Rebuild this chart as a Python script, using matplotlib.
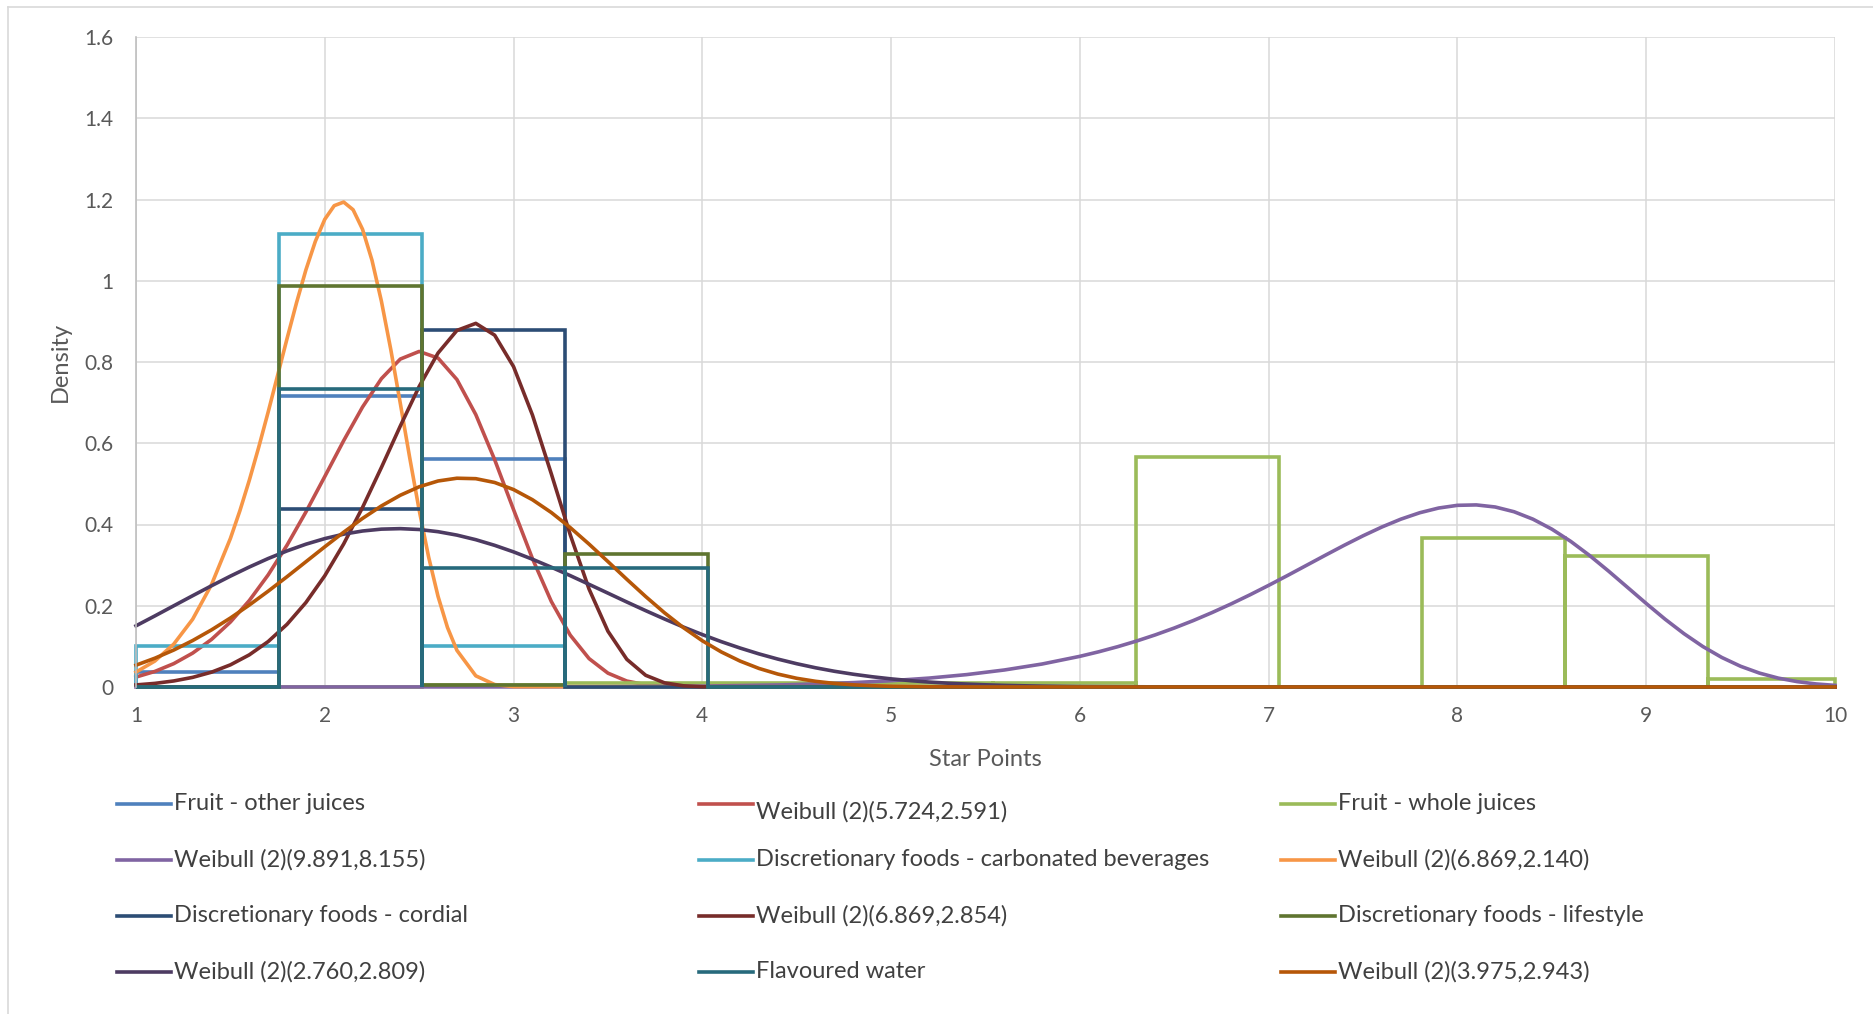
"""
Гистограммы оценок (Star Points) по категориям напитков и подогнанные Weibull-кривые.
"""

import matplotlib.pyplot as plt
from matplotlib.lines import Line2D

plt.rcParams['font.family'] = ['Lato', 'DejaVu Sans']

# Границы корзин гистограмм (общие для всех категорий)
BIN_EDGES = [1.0, 1.757, 2.514, 3.271, 4.028, 4.785, 5.542, 6.299,
             7.056, 7.813, 8.57, 9.327, 10.084]

# Плотности по корзинам
OTHER_JUICES = [0.037, 0.717, 0.562, 0, 0, 0, 0, 0, 0, 0, 0, 0]
WHOLE_JUICES = [0, 0, 0.006, 0.010, 0.010, 0.010, 0.010, 0.565, 0, 0.366, 0.322, 0.020]
CARBONATED = [0.100, 1.115, 0.100, 0, 0, 0, 0, 0, 0, 0, 0, 0]
CORDIAL = [0, 0.437, 0.878, 0, 0, 0, 0, 0, 0, 0, 0, 0]
LIFESTYLE = [0, 0.988, 0.005, 0.327, 0, 0, 0, 0, 0, 0, 0, 0]
FLAVOURED = [0, 0.733, 0.292, 0.292, 0, 0, 0, 0, 0, 0, 0, 0]

# Weibull-кривые, точки
X_W5724 = [1.0, 1.1, 1.2, 1.3, 1.4, 1.5, 1.6, 1.7, 1.8, 1.9, 2.0, 2.1, 2.2, 2.3, 2.4, 2.5,
           2.6, 2.7, 2.8, 2.9, 3.0, 3.1, 3.2, 3.3, 3.4, 3.5, 3.6, 3.7, 3.8, 3.9, 4.0, 10.0]
Y_W5724 = [0.0245, 0.0383, 0.0575, 0.0834, 0.1171, 0.1599, 0.2127, 0.2759, 0.3491, 0.4308,
           0.5181, 0.6063, 0.6892, 0.7590, 0.8072, 0.8260, 0.8097, 0.7568, 0.6705, 0.5594,
           0.4366, 0.3161, 0.2105, 0.1278, 0.0699, 0.0341, 0.0146, 0.0055, 0.0017, 0.0005,
           0.0001, 0.0]

X_W9891 = [1.0, 3.0, 3.5, 4.0, 4.4, 4.6, 4.8, 5.0, 5.2, 5.4, 5.6, 5.8, 6.0,
           6.1, 6.2, 6.3, 6.4, 6.5, 6.6, 6.7, 6.8, 6.9, 7.0, 7.1, 7.2, 7.3, 7.4, 7.5,
           7.6, 7.7, 7.8, 7.9, 8.0, 8.1, 8.2, 8.3, 8.4, 8.5, 8.6, 8.7, 8.8, 8.9, 9.0,
           9.1, 9.2, 9.3, 9.4, 9.5, 9.6, 9.7, 9.8, 9.9, 10.0]
Y_W9891 = [0.0, 0.0002, 0.0007, 0.0022, 0.0050, 0.0074, 0.0108, 0.0155, 0.0219, 0.0305,
           0.0419, 0.0566, 0.0755,
           0.0867, 0.0992, 0.1131, 0.1284, 0.1452, 0.1634, 0.1832, 0.2043, 0.2267, 0.2502,
           0.2745, 0.2994, 0.3243, 0.3488, 0.3722, 0.3939, 0.4131, 0.4289, 0.4405, 0.4472,
           0.4482, 0.4431, 0.4314, 0.4131, 0.3886, 0.3585, 0.3237, 0.2855, 0.2456, 0.2056,
           0.1669, 0.1313, 0.0996, 0.0728, 0.0510, 0.0342, 0.0218, 0.0132, 0.0075, 0.0040]

X_W6869A = [1.0, 1.1, 1.2, 1.3, 1.4, 1.5, 1.55, 1.6, 1.65, 1.7, 1.75, 1.8, 1.85, 1.9, 1.95,
            2.0, 2.05, 2.1, 2.15, 2.2, 2.25, 2.3, 2.35, 2.4, 2.45, 2.5, 2.55, 2.6, 2.65,
            2.7, 2.8, 2.9, 3.0, 10.0]
Y_W6869A = [0.0367, 0.0639, 0.1056, 0.1667, 0.2520, 0.3656, 0.4334, 0.5085, 0.5901, 0.6767,
            0.7667, 0.8574, 0.9453, 1.0267, 1.0969, 1.1512, 1.1848, 1.1937, 1.1748, 1.1267,
            1.0506, 0.9496, 0.8298, 0.6984, 0.5642, 0.4355, 0.3202, 0.2230, 0.1465, 0.0902,
            0.0275, 0.0060, 0.0009, 0.0]

X_W6869B = [1.0, 1.1, 1.2, 1.3, 1.4, 1.5, 1.6, 1.7, 1.8, 1.9, 2.0, 2.1, 2.2, 2.3, 2.4, 2.5,
            2.6, 2.7, 2.8, 2.9, 3.0, 3.1, 3.2, 3.3, 3.4, 3.5, 3.6, 3.7, 3.8, 3.9, 4.0, 10.0]
Y_W6869B = [0.0051, 0.0089, 0.0149, 0.0237, 0.0365, 0.0545, 0.0791, 0.1118, 0.1543, 0.2079,
            0.2738, 0.3521, 0.4420, 0.5404, 0.6423, 0.7397, 0.8221, 0.8777, 0.8951, 0.8660,
            0.7885, 0.6696, 0.5248, 0.3751, 0.2410, 0.1373, 0.0681, 0.0288, 0.0102, 0.0029,
            0.0007, 0.0]

X_W2760 = [1.0, 1.1, 1.2, 1.3, 1.4, 1.5, 1.6, 1.7, 1.8, 1.9, 2.0, 2.1, 2.2, 2.3, 2.4, 2.5,
           2.6, 2.7, 2.8, 2.9, 3.0, 3.1, 3.2, 3.3, 3.4, 3.5, 3.6, 3.7, 3.8, 3.9, 4.0, 4.1,
           4.2, 4.3, 4.4, 4.5, 4.6, 4.7, 4.8, 4.9, 5.0, 5.1, 5.2, 5.3, 5.4, 5.5, 5.6, 5.7,
           5.8, 5.9, 6.0, 6.5, 7.0, 10.0]
Y_W2760 = [0.1506, 0.1750, 0.1999, 0.2247, 0.2492, 0.2729, 0.2953, 0.3162, 0.3350, 0.3515,
           0.3653, 0.3762, 0.3840, 0.3886, 0.3898, 0.3877, 0.3823, 0.3739, 0.3626, 0.3487,
           0.3326, 0.3145, 0.2949, 0.2742, 0.2527, 0.2310, 0.2092, 0.1879, 0.1673, 0.1475,
           0.1290, 0.1117, 0.0959, 0.0815, 0.0687, 0.0573, 0.0473, 0.0387, 0.0314, 0.0252,
           0.0200, 0.0157, 0.0122, 0.0094, 0.0072, 0.0054, 0.0040, 0.0030, 0.0022, 0.0016,
           0.0011, 0.0002, 0.0, 0.0]

X_W3975 = [1.0, 1.1, 1.2, 1.3, 1.4, 1.5, 1.6, 1.7, 1.8, 1.9, 2.0, 2.1, 2.2, 2.3, 2.4, 2.5,
           2.6, 2.7, 2.8, 2.9, 3.0, 3.1, 3.2, 3.3, 3.4, 3.5, 3.6, 3.7, 3.8, 3.9, 4.0, 4.1,
           4.2, 4.3, 4.4, 4.5, 4.6, 4.7, 4.8, 4.9, 5.0, 5.2, 5.5, 10.0]
Y_W3975 = [0.0537, 0.0709, 0.0910, 0.1143, 0.1406, 0.1698, 0.2017, 0.2358, 0.2715, 0.3083,
           0.3451, 0.3810, 0.4150, 0.4457, 0.4720, 0.4928, 0.5071, 0.5139, 0.5128, 0.5034,
           0.4860, 0.4610, 0.4295, 0.3925, 0.3517, 0.3087, 0.2651, 0.2226, 0.1825, 0.1460,
           0.1138, 0.0864, 0.0638, 0.0457, 0.0318, 0.0214, 0.0140, 0.0088, 0.0053, 0.0031,
           0.0018, 0.0005, 0.0001, 0.0]

X_TICKS = [1, 2, 3, 4, 5, 6, 7, 8, 9, 10]
Y_TICKS = [0, 0.2, 0.4, 0.6, 0.8, 1.0, 1.2, 1.4, 1.6]
Y_TICK_LABELS = ["0", "0.2", "0.4", "0.6", "0.8", "1", "1.2", "1.4", "1.6"]

W, H = 1874, 1014   # размер картинки в пикселях
DPI = 100
LW = 2.6            # толщина линий серий


def hist_outline(edges, heights, xmax=10.0):
    """Контур гистограммы: каждая корзина — прямоугольник, опущенный до нуля."""
    xs, ys = [], []
    for i, h in enumerate(heights):
        x0 = min(edges[i], xmax)
        x1 = min(edges[i + 1], xmax)
        xs += [x0, x0, x1, x1]
        ys += [0, h, h, 0]
    return xs, ys


def main():
    fig = plt.figure(figsize=(W / DPI, H / DPI), dpi=DPI)
    ax = fig.add_axes([136 / W, 1 - 687 / H, (1835 - 136) / W, (687 - 37) / H])

    # Порядок серий как в исходной диаграмме (последняя рисуется сверху)
    series = [
        ("Fruit - other juices", "#4F81BD", "hist", OTHER_JUICES),
        ("Weibull (2)(5.724,2.591)", "#C0504D", "curve", (X_W5724, Y_W5724)),
        ("Fruit - whole juices", "#9BBB59", "hist", WHOLE_JUICES),
        ("Weibull (2)(9.891,8.155)", "#8064A2", "curve", (X_W9891, Y_W9891)),
        ("Discretionary foods - carbonated beverages", "#4BACC6", "hist", CARBONATED),
        ("Weibull (2)(6.869,2.140)", "#F79646", "curve", (X_W6869A, Y_W6869A)),
        ("Discretionary foods - cordial", "#2C4D75", "hist", CORDIAL),
        ("Weibull (2)(6.869,2.854)", "#772C2A", "curve", (X_W6869B, Y_W6869B)),
        ("Discretionary foods - lifestyle", "#5F7530", "hist", LIFESTYLE),
        ("Weibull (2)(2.760,2.809)", "#4D3B62", "curve", (X_W2760, Y_W2760)),
        ("Flavoured water", "#276A7C", "hist", FLAVOURED),
        ("Weibull (2)(3.975,2.943)", "#B65708", "curve", (X_W3975, Y_W3975)),
    ]

    for label, color, kind, data in series:
        if kind == "hist":
            xs, ys = hist_outline(BIN_EDGES, data)
            ax.plot(xs, ys, color=color, lw=LW, clip_on=False,
                    solid_joinstyle="miter", solid_capstyle="butt")
        else:
            ax.plot(data[0], data[1], color=color, lw=LW, clip_on=False,
                    solid_joinstyle="round")

    ax.set_xlim(1, 10)
    ax.set_ylim(0, 1.6)
    ax.set_xticks(X_TICKS)
    ax.set_yticks(Y_TICKS)
    ax.set_yticklabels(Y_TICK_LABELS)
    ax.tick_params(length=0, labelsize=15, colors="#595959")
    ax.tick_params(axis="y", pad=16)
    ax.tick_params(axis="x", pad=14)
    ax.grid(True, color="#D9D9D9", lw=1.1)
    ax.set_axisbelow(True)
    for side in ("top", "right", "bottom"):
        ax.spines[side].set_visible(False)
    ax.spines["left"].set_color("#BFBFBF")
    ax.spines["left"].set_linewidth(1.2)

    ax.set_xlabel("Star Points", fontsize=17, color="#595959", labelpad=16)
    ax.set_ylabel("Density", fontsize=17, color="#595959", labelpad=10)

    # Легенда вручную: 3 колонки x 4 строки
    col_x = [117, 699, 1281]
    row_y = [804, 860, 916, 972]
    for i, (label, color, _, _) in enumerate(series):
        r, c = divmod(i, 3)
        x0 = col_x[c]
        y = 1 - row_y[r] / H
        fig.add_artist(Line2D([x0 / W, (x0 + 54) / W], [y, y],
                              transform=fig.transFigure, color=color, lw=LW))
        ty = y - (8 / H if (r == 0 and c == 1) else 0)
        fig.text((x0 + 57) / W, ty, label, fontsize=17, color="#404040",
                 va="center", ha="left")

    # Светлая рамка области диаграммы
    fig.add_artist(Line2D([8 / W, 8 / W], [0, 1 - 7 / H], transform=fig.transFigure,
                          color="#D9D9D9", lw=1.2))
    fig.add_artist(Line2D([8 / W, 1], [1 - 7 / H, 1 - 7 / H], transform=fig.transFigure,
                          color="#D9D9D9", lw=1.2))

    fig.savefig("out.png", dpi=DPI)


if __name__ == "__main__":
    main()
